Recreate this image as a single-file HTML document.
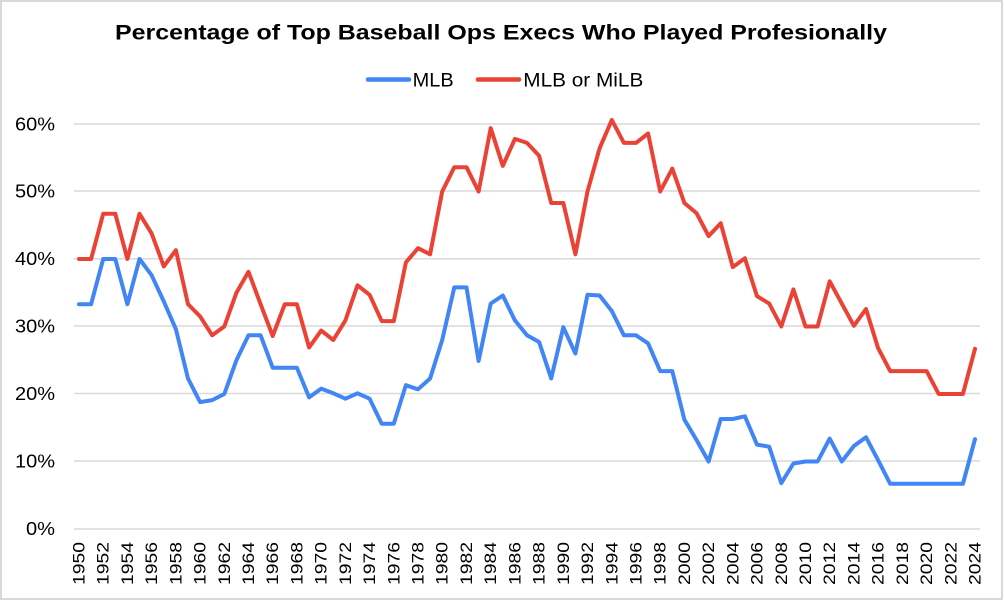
<!DOCTYPE html>
<html><head><meta charset="utf-8"><style>
html,body{margin:0;padding:0;background:#fff;}
svg{display:block;}
text{font-family:"Liberation Sans",Arial,sans-serif;fill:#000;}
</style></head><body>
<svg width="1004" height="602" viewBox="0 0 1004 602" xmlns="http://www.w3.org/2000/svg">
<rect x="0" y="0" width="1004" height="602" fill="#fff"/>
<rect x="1" y="1" width="1001" height="598" fill="none" stroke="#d9d9d9" stroke-width="2"/>
<text x="115" y="39.5" font-size="21" font-weight="bold" textLength="772" lengthAdjust="spacingAndGlyphs">Percentage of Top Baseball Ops Execs Who Played Profesionally</text>
<line x1="368" y1="79.5" x2="409" y2="79.5" stroke="#4285F4" stroke-width="4.5" stroke-linecap="round"/>
<text x="412.7" y="86.7" font-size="19" textLength="41" lengthAdjust="spacingAndGlyphs">MLB</text>
<line x1="478" y1="79.5" x2="519" y2="79.5" stroke="#EA4335" stroke-width="4.5" stroke-linecap="round"/>
<text x="523.3" y="86.7" font-size="19" textLength="120" lengthAdjust="spacingAndGlyphs">MLB or MiLB</text>
<g stroke="#d9d9d9" stroke-width="1.5">
<line x1="74" y1="124" x2="980" y2="124"/>
<line x1="74" y1="191" x2="980" y2="191"/>
<line x1="74" y1="258.8" x2="980" y2="258.8"/>
<line x1="74" y1="326" x2="980" y2="326"/>
<line x1="74" y1="393.5" x2="980" y2="393.5"/>
<line x1="74" y1="461" x2="980" y2="461"/>
<line x1="74" y1="529" x2="980" y2="529"/>
</g>
<g font-size="18" text-anchor="end">
<text x="55" y="130.5" textLength="40" lengthAdjust="spacingAndGlyphs">60%</text>
<text x="55" y="197.5" textLength="40" lengthAdjust="spacingAndGlyphs">50%</text>
<text x="55" y="265" textLength="40" lengthAdjust="spacingAndGlyphs">40%</text>
<text x="55" y="332.3" textLength="40" lengthAdjust="spacingAndGlyphs">30%</text>
<text x="55" y="400" textLength="40" lengthAdjust="spacingAndGlyphs">20%</text>
<text x="55" y="467.3" textLength="40" lengthAdjust="spacingAndGlyphs">10%</text>
<text x="55" y="535" textLength="29" lengthAdjust="spacingAndGlyphs">0%</text>
</g>
<g font-size="16.5" text-anchor="end">
<text transform="translate(84.5,542) rotate(-90)" textLength="43" lengthAdjust="spacingAndGlyphs">1950</text>
<text transform="translate(108.7,542) rotate(-90)" textLength="43" lengthAdjust="spacingAndGlyphs">1952</text>
<text transform="translate(132.9,542) rotate(-90)" textLength="43" lengthAdjust="spacingAndGlyphs">1954</text>
<text transform="translate(157.1,542) rotate(-90)" textLength="43" lengthAdjust="spacingAndGlyphs">1956</text>
<text transform="translate(181.4,542) rotate(-90)" textLength="43" lengthAdjust="spacingAndGlyphs">1958</text>
<text transform="translate(205.6,542) rotate(-90)" textLength="43" lengthAdjust="spacingAndGlyphs">1960</text>
<text transform="translate(229.8,542) rotate(-90)" textLength="43" lengthAdjust="spacingAndGlyphs">1962</text>
<text transform="translate(254.0,542) rotate(-90)" textLength="43" lengthAdjust="spacingAndGlyphs">1964</text>
<text transform="translate(278.2,542) rotate(-90)" textLength="43" lengthAdjust="spacingAndGlyphs">1966</text>
<text transform="translate(302.4,542) rotate(-90)" textLength="43" lengthAdjust="spacingAndGlyphs">1968</text>
<text transform="translate(326.7,542) rotate(-90)" textLength="43" lengthAdjust="spacingAndGlyphs">1970</text>
<text transform="translate(350.9,542) rotate(-90)" textLength="43" lengthAdjust="spacingAndGlyphs">1972</text>
<text transform="translate(375.1,542) rotate(-90)" textLength="43" lengthAdjust="spacingAndGlyphs">1974</text>
<text transform="translate(399.3,542) rotate(-90)" textLength="43" lengthAdjust="spacingAndGlyphs">1976</text>
<text transform="translate(423.5,542) rotate(-90)" textLength="43" lengthAdjust="spacingAndGlyphs">1978</text>
<text transform="translate(447.7,542) rotate(-90)" textLength="43" lengthAdjust="spacingAndGlyphs">1980</text>
<text transform="translate(472.0,542) rotate(-90)" textLength="43" lengthAdjust="spacingAndGlyphs">1982</text>
<text transform="translate(496.2,542) rotate(-90)" textLength="43" lengthAdjust="spacingAndGlyphs">1984</text>
<text transform="translate(520.4,542) rotate(-90)" textLength="43" lengthAdjust="spacingAndGlyphs">1986</text>
<text transform="translate(544.6,542) rotate(-90)" textLength="43" lengthAdjust="spacingAndGlyphs">1988</text>
<text transform="translate(568.8,542) rotate(-90)" textLength="43" lengthAdjust="spacingAndGlyphs">1990</text>
<text transform="translate(593.0,542) rotate(-90)" textLength="43" lengthAdjust="spacingAndGlyphs">1992</text>
<text transform="translate(617.3,542) rotate(-90)" textLength="43" lengthAdjust="spacingAndGlyphs">1994</text>
<text transform="translate(641.5,542) rotate(-90)" textLength="43" lengthAdjust="spacingAndGlyphs">1996</text>
<text transform="translate(665.7,542) rotate(-90)" textLength="43" lengthAdjust="spacingAndGlyphs">1998</text>
<text transform="translate(689.9,542) rotate(-90)" textLength="43" lengthAdjust="spacingAndGlyphs">2000</text>
<text transform="translate(714.1,542) rotate(-90)" textLength="43" lengthAdjust="spacingAndGlyphs">2002</text>
<text transform="translate(738.3,542) rotate(-90)" textLength="43" lengthAdjust="spacingAndGlyphs">2004</text>
<text transform="translate(762.5,542) rotate(-90)" textLength="43" lengthAdjust="spacingAndGlyphs">2006</text>
<text transform="translate(786.8,542) rotate(-90)" textLength="43" lengthAdjust="spacingAndGlyphs">2008</text>
<text transform="translate(811.0,542) rotate(-90)" textLength="43" lengthAdjust="spacingAndGlyphs">2010</text>
<text transform="translate(835.2,542) rotate(-90)" textLength="43" lengthAdjust="spacingAndGlyphs">2012</text>
<text transform="translate(859.4,542) rotate(-90)" textLength="43" lengthAdjust="spacingAndGlyphs">2014</text>
<text transform="translate(883.6,542) rotate(-90)" textLength="43" lengthAdjust="spacingAndGlyphs">2016</text>
<text transform="translate(907.8,542) rotate(-90)" textLength="43" lengthAdjust="spacingAndGlyphs">2018</text>
<text transform="translate(932.1,542) rotate(-90)" textLength="43" lengthAdjust="spacingAndGlyphs">2020</text>
<text transform="translate(956.3,542) rotate(-90)" textLength="43" lengthAdjust="spacingAndGlyphs">2022</text>
<text transform="translate(980.5,542) rotate(-90)" textLength="43" lengthAdjust="spacingAndGlyphs">2024</text>
</g>
<polyline fill="none" stroke="#4285F4" stroke-width="4" stroke-linejoin="round" stroke-linecap="round" points="79.0,304.2 91.1,304.2 103.2,259 115.3,259 127.4,304.2 139.5,259 151.6,275.2 163.8,301.5 175.9,329.2 188.0,378.5 200.1,402.1 212.2,400.1 224.3,394 236.4,360.3 248.5,335.3 260.6,335.3 272.7,367.7 284.8,367.7 296.9,367.7 309.1,397.4 321.2,388.6 333.3,393.3 345.4,398.7 357.5,393.3 369.6,398.7 381.7,423.7 393.8,423.7 405.9,385.2 418.0,389.3 430.1,378.5 442.2,340 454.3,287.4 466.5,287.4 478.6,360.9 490.7,303.6 502.8,295.5 514.9,320.4 527.0,335.3 539.1,342 551.2,378.5 563.3,327.2 575.4,353.5 587.5,294.8 599.6,295.5 611.8,311 623.9,335.3 636.0,335.3 648.1,343.4 660.2,371.1 672.3,371.1 684.4,419.7 696.5,439.9 708.6,461.5 720.7,419 732.8,419 744.9,416.3 757.0,444.6 769.2,446.7 781.3,483.1 793.4,463.5 805.5,461.5 817.6,461.5 829.7,438.6 841.8,461.5 853.9,446 866.0,437.2 878.1,460.2 890.2,483.8 902.3,483.8 914.5,483.8 926.6,483.8 938.7,483.8 950.8,483.8 962.9,483.8 975.0,439.2"/>
<polyline fill="none" stroke="#EA4335" stroke-width="4" stroke-linejoin="round" stroke-linecap="round" points="79.0,259 91.1,259 103.2,213.8 115.3,213.8 127.4,259 139.5,213.8 151.6,233.4 163.8,266.4 175.9,250.2 188.0,304.2 200.1,316.4 212.2,335.3 224.3,326.5 236.4,292.8 248.5,271.8 260.6,304.2 272.7,336 284.8,304.2 296.9,304.2 309.1,347.4 321.2,330.6 333.3,340 345.4,320.4 357.5,285.3 369.6,294.8 381.7,321.1 393.8,321.1 405.9,262.4 418.0,248.2 430.1,254.3 442.2,191.5 454.3,167.2 466.5,167.2 478.6,191.5 490.7,128.1 502.8,165.9 514.9,138.9 527.0,142.9 539.1,155.7 551.2,203 563.3,203 575.4,254.3 587.5,191.5 599.6,148.3 611.8,120 623.9,142.9 636.0,142.9 648.1,133.5 660.2,191.5 672.3,168.6 684.4,203 696.5,213.1 708.6,236.1 720.7,223.2 732.8,267.1 744.9,258.3 757.0,296.1 769.2,303.6 781.3,326.5 793.4,289.4 805.5,326.5 817.6,326.5 829.7,281.3 841.8,303.6 853.9,325.8 866.0,309 878.1,348.1 890.2,371.1 902.3,371.1 914.5,371.1 926.6,371.1 938.7,394 950.8,394 962.9,394 975.0,348.8"/>
</svg>
</body></html>
